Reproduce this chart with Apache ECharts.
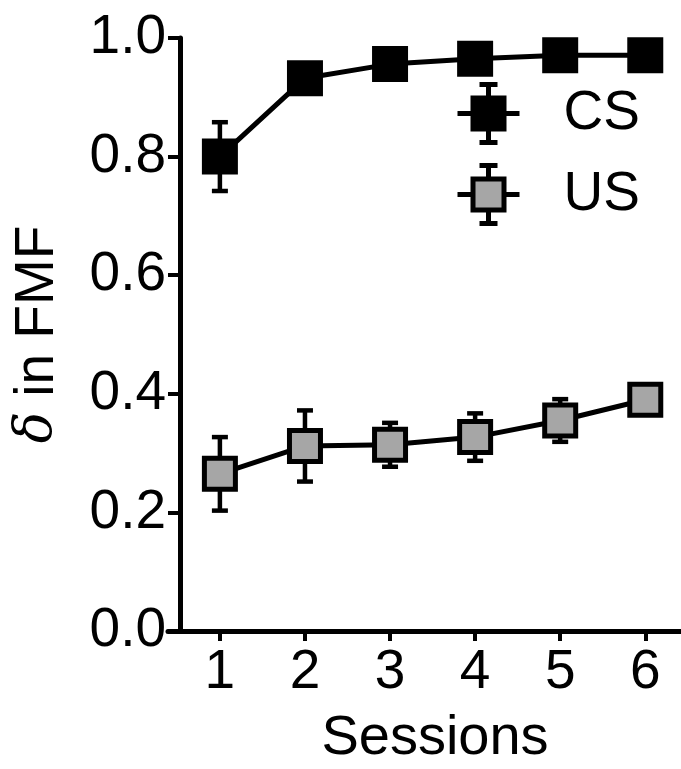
<!DOCTYPE html>
<html>
<head>
<meta charset="utf-8">
<script src="https://cdn.jsdelivr.net/npm/echarts@6/dist/echarts.min.js"></script>
<style>
  html, body { margin: 0; padding: 0; background: #fff; }
  #chart { width: 681px; height: 769px; }
</style>
</head>
<body>
<div id="chart"></div>
<script>
// data
var sessions = [1, 2, 3, 4, 5, 6];
var csMean = [0.80, 0.932, 0.956, 0.965, 0.971, 0.971];
var csErr = [0.058, 0.01, 0.008, 0.008, 0.006, 0.006];
var usMean = [0.265, 0.312, 0.314, 0.327, 0.355, 0.39];
var usErr = [0.062, 0.06, 0.037, 0.04, 0.036, 0.012];
var yTicks = [0, 0.2, 0.4, 0.6, 0.8, 1.0];

var FONT = 'Liberation Sans, Arial, sans-serif';
var GREY = '#a6a6a6';

function pairs(mean) {
  return sessions.map(function (s, i) { return [s, mean[i]]; });
}
function errRows(mean, err) {
  return sessions.map(function (s, i) { return [s, mean[i] - err[i], mean[i] + err[i]]; });
}

// error bar: stem + two caps
function renderErr(params, api) {
  var lo = api.coord([api.value(0), api.value(1)]);
  var hi = api.coord([api.value(0), api.value(2)]);
  var w = 8;
  var st = { stroke: '#000', lineWidth: 4.5 };
  return {
    type: 'group',
    children: [
      { type: 'line', shape: { x1: lo[0], y1: lo[1], x2: hi[0], y2: hi[1] }, style: st },
      { type: 'line', shape: { x1: lo[0] - w, y1: lo[1], x2: lo[0] + w, y2: lo[1] }, style: st },
      { type: 'line', shape: { x1: hi[0] - w, y1: hi[1], x2: hi[0] + w, y2: hi[1] }, style: st }
    ]
  };
}

// legend icon: square with whiskers
var legendIcon = 'path://M0 29H15.5M46.5 29H62M31 0V13.5M31 44.5V58M22 0H40M22 58H40M15.5 13.5H46.5V44.5H15.5Z';

var chart = echarts.init(document.getElementById('chart'));
var option = {
  animation: false,
  grid: { left: 168, right: 0, top: 38, bottom: 138, containLabel: false, outerBoundsMode: 'none' },
  legend: {
    orient: 'vertical',
    left: 455,
    top: 82,
    padding: 0,
    itemWidth: 62,
    itemHeight: 58,
    itemGap: 18,
    selectedMode: false,
    textStyle: { fontFamily: FONT, fontSize: 55, color: '#000', padding: [0, 0, 0, 39] },
    data: [
      { name: 'CS', icon: legendIcon, itemStyle: { color: '#000', borderColor: '#000', borderWidth: 5 } },
      { name: 'US', icon: legendIcon, itemStyle: { color: GREY, borderColor: '#000', borderWidth: 5 } }
    ]
  },
  xAxis: {
    type: 'value',
    min: 0.39,
    max: 6.42,
    name: 'Sessions',
    nameLocation: 'middle',
    nameGap: 80,
    nameTextStyle: { fontFamily: FONT, fontSize: 56, color: '#000', padding: [0, 0, 0, 21] },
    axisLine: { lineStyle: { color: '#000', width: 5 } },
    axisTick: { show: true, customValues: sessions, length: 10, lineStyle: { color: '#000', width: 4 } },
    axisLabel: { customValues: sessions, fontFamily: FONT, fontSize: 55, color: '#000', margin: 14 },
    splitLine: { show: false }
  },
  yAxis: {
    type: 'value',
    min: 0,
    max: 1,
    interval: 0.2,
    offset: -12,
    name: '{d|δ} in FMF',
    nameLocation: 'middle',
    nameGap: 115,
    nameTextStyle: {
      fontFamily: FONT, fontSize: 55, color: '#000',
      rich: { d: { fontFamily: 'DejaVu Serif, serif', fontStyle: 'italic', fontSize: 52, color: '#000' } }
    },
    axisLine: { show: true, lineStyle: { color: '#000', width: 5 } },
    axisTick: { show: true, length: 12, lineStyle: { color: '#000', width: 4 } },
    axisLabel: {
      fontFamily: FONT, fontSize: 55, color: '#000', margin: 14,
      formatter: function (v) { return v.toFixed(1); }
    },
    splitLine: { show: false }
  },
  series: [
    {
      type: 'custom',
      name: 'csErr',
      renderItem: renderErr,
      data: errRows(csMean, csErr),
      z: 1,
      silent: true
    },
    {
      type: 'custom',
      name: 'usErr',
      renderItem: renderErr,
      data: errRows(usMean, usErr),
      z: 1,
      silent: true
    },
    {
      name: 'CS',
      type: 'line',
      data: pairs(csMean),
      symbol: 'rect',
      symbolSize: 36,
      itemStyle: { color: '#000' },
      lineStyle: { color: '#000', width: 5 },
      z: 3,
      emphasis: { disabled: true }
    },
    {
      name: 'US',
      type: 'line',
      data: pairs(usMean),
      symbol: 'rect',
      symbolSize: 31,
      itemStyle: { color: GREY, borderColor: '#000', borderWidth: 5 },
      lineStyle: { color: '#000', width: 5 },
      z: 3,
      emphasis: { disabled: true }
    }
  ]
};
if (option && typeof option === 'object') {
  chart.setOption(option);
}
</script>
</body>
</html>
